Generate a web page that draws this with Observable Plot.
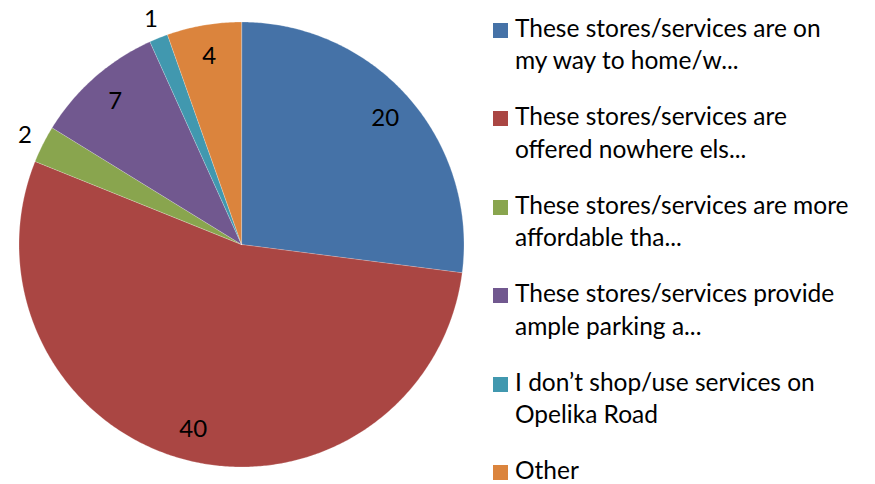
<!DOCTYPE html>
<html>
<head>
<meta charset="utf-8">
<script src="https://cdn.jsdelivr.net/npm/d3@7"></script>
<script src="https://cdn.jsdelivr.net/npm/@observablehq/plot@0.6"></script>
<style>
  html, body { margin: 0; padding: 0; background: #fff; }
  #wrap { position: relative; width: 875px; height: 484px; font-family: Lato, "Open Sans", sans-serif; }
  #legend { position: absolute; left: 493px; top: 0px; }
  .item { position: absolute; left: 0; white-space: pre-line; font-size: 24.5px; line-height: 32.5px; color: #000; }
  .sw { position: absolute; left: 0; width: 15px; height: 15px; }
  .txt { position: absolute; left: 22px; white-space: pre; }
</style>
</head>
<body>
<div id="wrap"><div id="legend"></div></div>
<script>
// ---- data ----
const categories = [
  "These stores/services are on\nmy way to home/w...",
  "These stores/services are\noffered nowhere els...",
  "These stores/services are more\naffordable tha...",
  "These stores/services provide\nample parking a...",
  "I don\u2019t shop/use services on\nOpelika Road",
  "Other"
];
const values = [20, 40, 2, 7, 1, 4];
const colors = ["#4572A7", "#AA4643", "#89A54E", "#71588F", "#4198AF", "#DB843D"];

// ---- geometry (pie angles clockwise from 12 o'clock) ----
const total = d3.sum(values);
const slices = [];
const labels = [];
let acc = 0;
values.forEach((v, i) => {
  const a0 = acc / total * 2 * Math.PI;
  acc += v;
  const a1 = acc / total * 2 * Math.PI;
  const pts = [{cat: categories[i], x: 0, y: 0}];
  const n = Math.max(2, Math.ceil((a1 - a0) / (Math.PI / 360)));
  for (let k = 0; k <= n; k++) {
    const a = a0 + (a1 - a0) * k / n;
    pts.push({cat: categories[i], x: Math.sin(a), y: Math.cos(a)});
  }
  slices.push(...pts);
  const am = (a0 + a1) / 2;
  const r = v / total < 0.04 ? 1.09 : 0.86;
  labels.push({x: r * Math.sin(am), y: r * Math.cos(am), text: String(v)});
});

const chart = Plot.plot({
  width: 875,
  height: 484,
  margin: 0,
  style: {fontFamily: "Lato, 'Open Sans', sans-serif", background: "transparent"},
  x: {domain: [-1, 1], range: [18.5, 463.5], axis: null},
  y: {domain: [-1, 1], range: [466.5, 21.5], axis: null},
  color: {domain: categories, range: colors},
  marks: [
    Plot.line(slices, {x: "x", y: "y", z: "cat", fill: "cat", stroke: "white", strokeWidth: 0.4, strokeOpacity: 0.6, curve: "linear-closed"}),
    Plot.text(labels, {x: "x", y: "y", text: "text", fontSize: 24, fill: "#000", textAnchor: "middle"})
  ]
});
const wrap = document.getElementById("wrap");
wrap.insertBefore(chart, wrap.firstChild);

// ---- legend ----
const legend = document.getElementById("legend");
categories.forEach((c, i) => {
  const top = 11.5 + i * 88.5;
  const sw = document.createElement("div");
  sw.className = "sw";
  sw.style.top = (top + 11) + "px";
  sw.style.background = colors[i];
  legend.appendChild(sw);
  const t = document.createElement("div");
  t.className = "item txt";
  t.style.top = top + "px";
  t.textContent = c;
  legend.appendChild(t);
});
</script>
</body>
</html>
